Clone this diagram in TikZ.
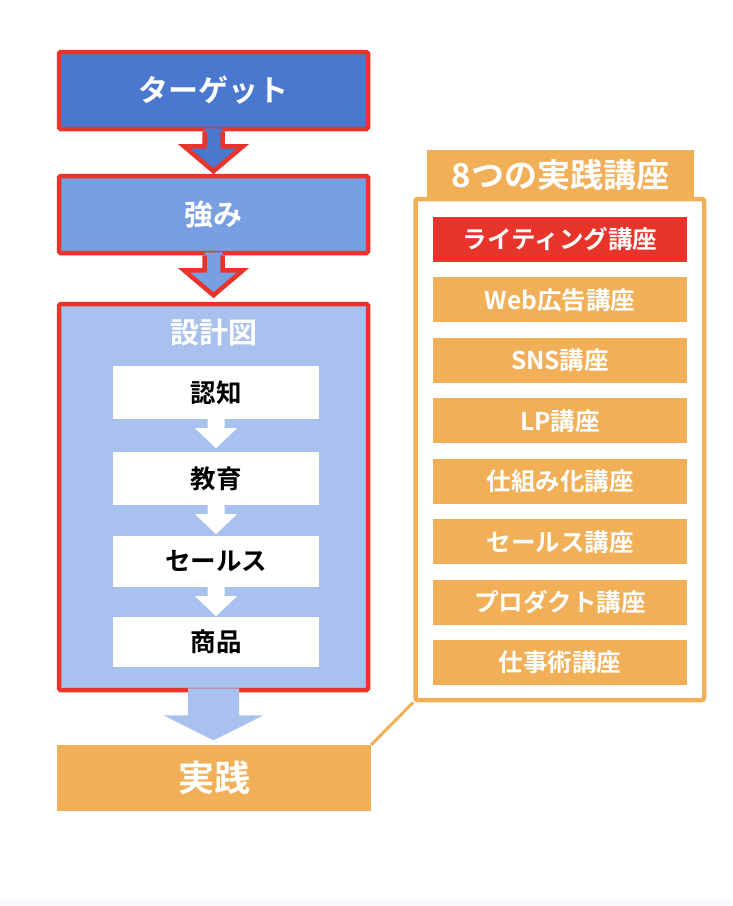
\documentclass[tikz,border=0pt]{standalone}
\usepackage{fontspec}
\setmainfont{Noto Sans CJK JP}[BoldFont={Noto Sans CJK JP Bold}]
\usetikzlibrary{calc}
\definecolor{cred}{HTML}{E8342A}
\definecolor{cdark}{HTML}{4A78CF}
\definecolor{cmid}{HTML}{789FE2}
\definecolor{clight}{HTML}{A9C1EE}
\definecolor{corange}{HTML}{F1AF58}
\definecolor{cstrip}{HTML}{F8FAFD}
\newcommand{\fs}[1]{\bfseries\fontsize{#1}{#1}\selectfont}
\begin{document}
\begin{tikzpicture}[x=1pt,y=-1pt,
  redbox/.style={draw=cred, line width=4.5pt, rounded corners=1.5pt,
    minimum width=309pt, inner sep=0pt, text=white},
  whitebox/.style={fill=white, minimum width=206pt, inner sep=0pt, text=black, font=\fs{25.5}},
  itembox/.style={fill=corange, minimum width=254pt, minimum height=45pt, inner sep=0pt,
    text=white, font=\fs{24.5}},
  redline/.style={draw=cred, line width=4.5pt, line join=miter},
  lbl/.style={text=white, inner sep=0pt}
]
\useasboundingbox (0,0) rectangle (732,906);
\fill[cstrip] (0,899) rectangle (732,906);

% left column
\node[redbox, fill=cdark, minimum height=77pt, font=\fs{30}] (tgt) at (213.5,90.5) {ターゲット};
\node[redbox, fill=cmid, minimum height=77pt, font=\fs{29}] (str) at (213.5,214.5) {強み};
\node[redbox, fill=clight, minimum height=386pt] (dsg) at (213.5,497) {};
\node[lbl, font=\fs{29}] (dsgt) at (213.5,333) {設計図};

% arrow target -> strength
\fill[cdark] ($(tgt.south)+(-9,-3)$) -- ($(tgt.south)+(-9,15)$) -- ($(tgt.south)+(-29.5,15)$)
  -- ($(tgt.south)+(0,40)$) -- ($(tgt.south)+(29.5,15)$) -- ($(tgt.south)+(9,15)$)
  -- ($(tgt.south)+(9,-3)$) -- cycle;
\draw[redline] ($(tgt.south)+(-9,0)$) -- ($(tgt.south)+(-9,15)$) -- ($(tgt.south)+(-29.5,15)$)
  -- ($(tgt.south)+(0,40)$) -- ($(tgt.south)+(29.5,15)$) -- ($(tgt.south)+(9,15)$)
  -- ($(tgt.south)+(9,0)$);
% arrow strength -> design
\fill[cmid] ($(str.south)+(-9,-3)$) -- ($(str.south)+(-9,15)$) -- ($(str.south)+(-29.5,15)$)
  -- ($(str.south)+(0,40)$) -- ($(str.south)+(29.5,15)$) -- ($(str.south)+(9,15)$)
  -- ($(str.south)+(9,-3)$) -- cycle;
\draw[redline] ($(str.south)+(-9,0)$) -- ($(str.south)+(-9,15)$) -- ($(str.south)+(-29.5,15)$)
  -- ($(str.south)+(0,40)$) -- ($(str.south)+(29.5,15)$) -- ($(str.south)+(9,15)$)
  -- ($(str.south)+(9,0)$);

% white steps
\node[whitebox, minimum height=53pt] (w1) at (216,392.5) {認知};
\node[whitebox, minimum height=53pt] (w2) at (216,478.5) {教育};
\node[whitebox, minimum height=51pt] (w3) at (216,561.5) {セールス};
\node[whitebox, minimum height=50pt] (w4) at (216,642) {商品};
\foreach \a in {w1,w2,w3}{
  \fill[white] ($(\a.south)+(-8.5,-1)$) -- ($(\a.south)+(-8.5,9)$) -- ($(\a.south)+(-21,9)$)
    -- ($(\a.south)+(0,29)$) -- ($(\a.south)+(21,9)$) -- ($(\a.south)+(8.5,9)$)
    -- ($(\a.south)+(8.5,-1)$) -- cycle;
}

% big arrow to practice
\fill[clight] ($(dsg.south)+(-25.5,-4)$) -- ($(dsg.south)+(-25.5,23)$) -- ($(dsg.south)+(-50,23)$)
  -- ($(dsg.south)+(0,48)$) -- ($(dsg.south)+(50,23)$) -- ($(dsg.south)+(25.5,23)$)
  -- ($(dsg.south)+(25.5,-4)$) -- cycle;

\node[fill=corange, minimum width=314pt, minimum height=66pt, inner sep=0pt,
  text=white, font=\fs{36}] (prc) at (214,778) {実践};

% right panel
\node[draw=corange, line width=4.5pt, rounded corners=2pt, minimum width=288.5pt,
  minimum height=501pt, inner sep=0pt] (pnl) at (559.75,449.5) {};
\node[fill=corange, minimum width=267pt, minimum height=49pt, inner sep=0pt,
  text=white, font=\fs{33}] (tab) at (560.5,174.5) {8つの実践講座};

\node[itembox, fill=cred] (i1) at (560,239.5) {ライティング講座};
\node[itembox] (i2) at (560,299.9) {Web広告講座};
\node[itembox] (i3) at (560,360.4) {SNS講座};
\node[itembox] (i4) at (560,420.8) {LP講座};
\node[itembox] (i5) at (560,481.3) {仕組み化講座};
\node[itembox] (i6) at (560,541.7) {セールス講座};
\node[itembox] (i7) at (560,602.2) {プロダクト講座};
\node[itembox] (i8) at (560,662.6) {仕事術講座};

% connector
\draw[corange, line width=3pt] (prc.north east) -- (pnl.south west);
\end{tikzpicture}
\end{document}
